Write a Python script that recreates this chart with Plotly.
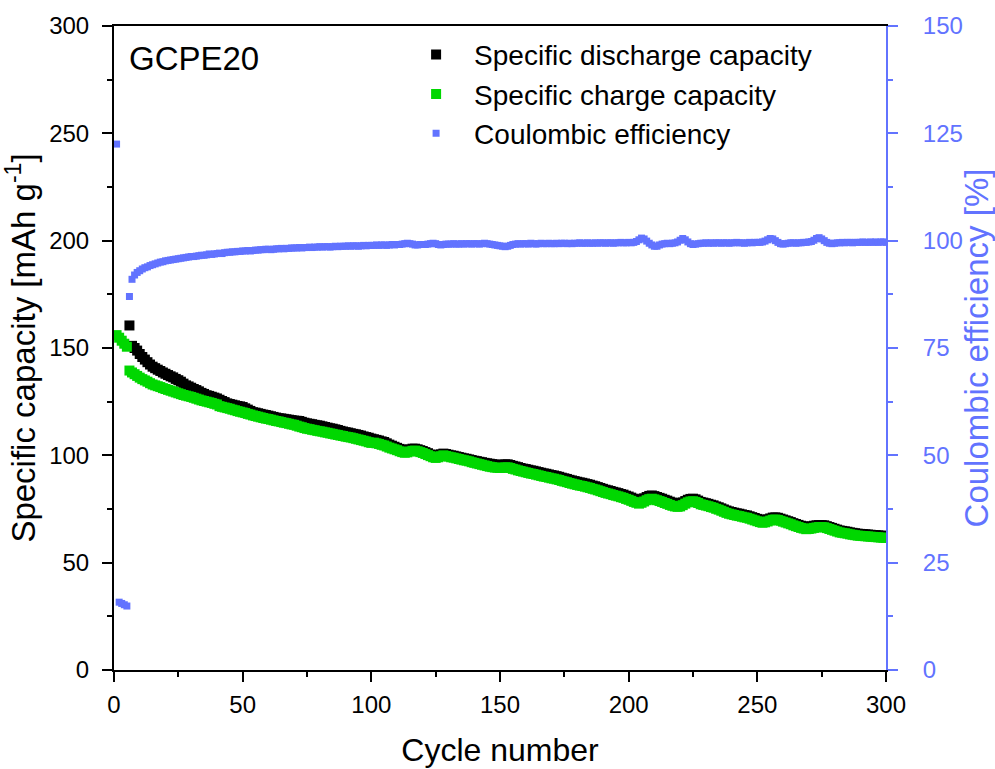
import plotly.graph_objects as go

cycles = list(range(1, 301))

discharge = [
    None, None, None, None, None, 160.5, 151.0, 150.0, 148.8, 147.2,
    145.8, 144.6, 143.4, 142.3, 141.3, 140.6, 139.9, 139.3, 138.6, 138.0,
    137.4, 136.8, 136.3, 135.6, 135.0, 134.3, 133.4, 132.6, 132.1, 131.5,
    130.9, 130.4, 129.8, 129.1, 128.6, 128.0, 127.7, 127.3, 126.9, 126.5,
    125.9, 125.3, 124.8, 124.2, 123.9, 123.6, 123.3, 123.0, 122.8, 122.5,
    121.9, 121.3, 120.7, 120.1, 119.9, 119.6, 119.3, 119.0, 118.8, 118.5,
    118.2, 117.9, 117.6, 117.3, 117.2, 117.0, 116.8, 116.6, 116.4, 116.2,
    116.1, 116.0, 115.6, 115.2, 114.9, 114.7, 114.5, 114.2, 114.0, 113.8,
    113.5, 113.2, 112.9, 112.6, 112.4, 112.1, 111.8, 111.4, 111.1, 110.8,
    110.6, 110.3, 110.0, 109.8, 109.5, 109.2, 108.8, 108.5, 108.2, 107.8,
    107.5, 107.2, 106.9, 106.5, 106.2, 105.6, 105.0, 104.5, 104.0, 103.5,
    103.0, 102.6, 102.3, 102.5, 102.8, 103.1, 103.1, 102.8, 102.4, 102.0,
    101.5, 101.0, 100.4, 99.9, 99.6, 100.0, 100.5, 100.8, 100.6, 100.3,
    100.0, 99.8, 99.5, 99.2, 98.9, 98.6, 98.4, 98.1, 97.8, 97.5,
    97.3, 97.0, 96.8, 96.5, 96.3, 96.1, 95.9, 95.7, 95.6, 95.5,
    95.6, 95.8, 95.8, 95.5, 95.1, 94.8, 94.5, 94.1, 93.8, 93.6,
    93.3, 93.0, 92.8, 92.5, 92.2, 91.9, 91.6, 91.4, 91.1, 90.8,
    90.6, 90.3, 90.0, 89.6, 89.3, 89.0, 88.6, 88.3, 88.0, 87.7,
    87.4, 87.2, 86.9, 86.6, 86.3, 85.9, 85.6, 85.2, 84.8, 84.4,
    84.0, 83.7, 83.4, 83.0, 82.7, 82.4, 82.0, 81.7, 81.2, 80.8,
    80.3, 79.8, 79.4, 79.0, 79.4, 80.0, 80.6, 81.1, 81.3, 81.0,
    80.6, 80.2, 79.8, 79.3, 78.9, 78.4, 78.0, 77.7, 77.5, 77.6,
    78.1, 78.7, 79.3, 79.7, 79.8, 79.5, 78.9, 78.3, 78.0, 77.7,
    77.4, 77.0, 76.7, 76.2, 75.8, 75.3, 74.8, 74.3, 73.9, 73.6,
    73.3, 73.0, 72.8, 72.5, 72.2, 72.0, 71.6, 71.2, 70.8, 70.4,
    70.0, 69.7, 69.8, 70.2, 70.6, 71.0, 71.1, 70.9, 70.5, 70.1,
    69.7, 69.3, 68.9, 68.4, 68.0, 67.6, 67.2, 66.9, 66.6, 66.7,
    66.9, 67.2, 67.4, 67.5, 67.5, 67.4, 67.0, 66.6, 66.2, 65.8,
    65.4, 65.0, 64.8, 64.6, 64.4, 64.1, 63.9, 63.7, 63.5, 63.4,
    63.3, 63.2, 63.1, 63.0, 62.9, 62.8, 62.7, 62.6, 62.5, 62.4,
]

charge = [
    156.0, 154.8, 153.4, 152.0, 150.6, 139.5, 138.6, 137.8, 137.0, 136.2,
    135.5, 134.9, 134.3, 133.6, 133.0, 132.6, 132.2, 131.8, 131.3, 130.9,
    130.5, 130.1, 129.7, 129.3, 128.9, 128.5, 128.1, 127.8, 127.5, 127.2,
    126.8, 126.4, 126.0, 125.6, 125.3, 125.0, 124.7, 124.4, 124.0, 123.7,
    122.9, 122.6, 122.3, 122.0, 121.7, 121.3, 121.0, 120.6, 120.3, 120.0,
    119.7, 119.3, 119.0, 118.6, 118.3, 118.0, 117.7, 117.4, 117.1, 116.9,
    116.6, 116.3, 116.0, 115.8, 115.5, 115.2, 115.0, 114.7, 114.4, 114.2,
    113.8, 113.4, 113.1, 112.7, 112.4, 112.2, 111.9, 111.7, 111.4, 111.2,
    111.0, 110.7, 110.5, 110.2, 110.0, 109.7, 109.5, 109.2, 109.0, 108.7,
    108.5, 108.3, 108.0, 107.7, 107.4, 107.1, 106.8, 106.5, 106.1, 105.8,
    105.9, 105.6, 105.3, 104.9, 104.6, 104.1, 103.6, 103.2, 102.8, 102.4,
    101.9, 101.5, 101.2, 101.4, 101.8, 102.1, 102.2, 101.9, 101.5, 101.1,
    100.6, 100.1, 99.6, 99.1, 98.8, 99.1, 99.6, 100.0, 99.7, 99.4,
    99.1, 98.9, 98.6, 98.3, 98.0, 97.7, 97.5, 97.2, 96.8, 96.5,
    96.2, 95.9, 95.6, 95.3, 95.0, 94.7, 94.5, 94.3, 94.2, 94.1,
    94.2, 94.4, 94.4, 94.1, 93.7, 93.4, 93.0, 92.7, 92.4, 92.1,
    91.8, 91.5, 91.3, 91.0, 90.7, 90.4, 90.1, 89.9, 89.6, 89.3,
    89.1, 88.8, 88.5, 88.1, 87.8, 87.5, 87.1, 86.8, 86.5, 86.2,
    85.9, 85.7, 85.4, 85.1, 84.8, 84.4, 84.1, 83.7, 83.3, 82.9,
    82.5, 82.2, 81.9, 81.5, 81.2, 80.9, 80.5, 80.2, 79.7, 79.3,
    78.8, 78.3, 77.9, 77.5, 77.9, 78.5, 79.1, 79.6, 79.8, 79.5,
    79.1, 78.7, 78.3, 77.8, 77.4, 76.9, 76.5, 76.2, 76.0, 76.2,
    76.8, 77.5, 78.1, 78.5, 78.6, 78.3, 77.8, 77.2, 76.9, 76.6,
    76.3, 75.9, 75.6, 75.1, 74.7, 74.2, 73.7, 73.2, 72.8, 72.5,
    72.2, 71.9, 71.7, 71.4, 71.1, 70.9, 70.5, 70.1, 69.7, 69.3,
    68.9, 68.6, 68.8, 69.2, 69.6, 70.0, 70.1, 69.9, 69.5, 69.1,
    68.7, 68.3, 67.9, 67.4, 67.0, 66.6, 66.2, 65.9, 65.6, 65.7,
    65.9, 66.2, 66.4, 66.6, 66.6, 66.5, 66.1, 65.7, 65.3, 64.9,
    64.5, 64.1, 63.9, 63.7, 63.5, 63.2, 63.0, 62.8, 62.6, 62.5,
    62.4, 62.3, 62.2, 62.1, 62.0, 61.9, 61.8, 61.7, 61.6, 61.5,
]

efficiency = [
    122.5, 15.8, 15.5, 15.2, 14.9, 87.0, 91.0, 92.0, 92.6, 93.0,
    93.4, 93.7, 93.9, 94.2, 94.4, 94.6, 94.8, 95.0, 95.1, 95.3,
    95.4, 95.5, 95.6, 95.7, 95.8, 95.9, 96.0, 96.1, 96.2, 96.3,
    96.3, 96.4, 96.5, 96.6, 96.6, 96.7, 96.9, 96.8, 96.9, 97.0,
    97.1, 97.0, 97.2, 97.3, 97.3, 97.4, 97.4, 97.5, 97.5, 97.6,
    97.6, 97.7, 97.6, 97.7, 97.8, 97.8, 97.9, 97.9, 98.0, 98.0,
    97.9, 98.0, 98.1, 98.1, 98.2, 98.1, 98.2, 98.2, 98.3, 98.3,
    98.3, 98.4, 98.3, 98.4, 98.4, 98.5, 98.4, 98.5, 98.5, 98.6,
    98.5, 98.6, 98.6, 98.5, 98.6, 98.7, 98.6, 98.7, 98.7, 98.7,
    98.8, 98.7, 98.8, 98.8, 98.7, 98.8, 98.9, 98.8, 98.9, 98.9,
    98.9, 99.0, 98.9, 99.0, 99.0, 98.9, 99.0, 99.1, 99.0, 99.1,
    99.1, 99.2, 99.3, 99.4, 99.3, 99.2, 99.0, 99.0, 99.1, 99.1,
    99.1, 99.2, 99.3, 99.4, 99.3, 99.1, 99.0, 99.1, 99.2, 99.2,
    99.2, 99.3, 99.2, 99.2, 99.3, 99.2, 99.3, 99.3, 99.2, 99.3,
    99.3, 99.2, 99.3, 99.4, 99.3, 99.2, 99.1, 99.0, 98.9, 98.8,
    98.7, 98.6, 98.7, 98.9, 99.1, 99.2, 99.3, 99.2, 99.3, 99.3,
    99.2, 99.4, 99.3, 99.2, 99.3, 99.4, 99.3, 99.3, 99.4, 99.3,
    99.3, 99.4, 99.3, 99.4, 99.4, 99.3, 99.4, 99.3, 99.4, 99.4,
    99.5, 99.4, 99.4, 99.5, 99.4, 99.4, 99.5, 99.4, 99.5, 99.5,
    99.4, 99.5, 99.5, 99.4, 99.5, 99.5, 99.6, 99.5, 99.5, 99.6,
    99.5, 99.6, 99.8, 100.2, 100.6, 100.4, 99.9, 99.4, 99.0, 98.7,
    98.7, 99.0, 99.2, 99.3, 99.4, 99.3, 99.4, 99.5, 99.7, 100.1,
    100.5, 100.2, 99.7, 99.3, 99.1, 99.2, 99.3, 99.4, 99.4, 99.5,
    99.4, 99.5, 99.4, 99.5, 99.5, 99.4, 99.5, 99.5, 99.4, 99.5,
    99.5, 99.6, 99.5, 99.5, 99.4, 99.5, 99.6, 99.5, 99.6, 99.6,
    99.6, 99.7, 99.9, 100.2, 100.5, 100.4, 100.0, 99.6, 99.3, 99.2,
    99.3, 99.4, 99.5, 99.5, 99.4, 99.5, 99.5, 99.6, 99.6, 99.7,
    99.8, 100.1, 100.5, 100.7, 100.4, 100.0, 99.6, 99.4, 99.3, 99.4,
    99.5, 99.5, 99.6, 99.5, 99.6, 99.6, 99.5, 99.6, 99.6, 99.6,
    99.7, 99.6, 99.6, 99.7, 99.6, 99.7, 99.6, 99.7, 99.7, 99.6,
]

x_ticks = [0, 50, 100, 150, 200, 250, 300]
y_ticks = [0, 50, 100, 150, 200, 250, 300]
y2_ticks = [0, 25, 50, 75, 100, 125, 150]

BLUE = "rgb(98,115,255)"
GREEN = "rgb(0,215,0)"
FONT = "Liberation Sans, Arial, sans-serif"

fig = go.Figure()
fig.add_trace(go.Scatter(
    x=cycles, y=discharge, mode="markers", name="Specific discharge capacity",
    marker=dict(symbol="square", size=10, color="black", line=dict(width=0)),
))
fig.add_trace(go.Scatter(
    x=cycles, y=charge, mode="markers", name="Specific charge capacity",
    marker=dict(symbol="square", size=10, color=GREEN, line=dict(width=0)),
))
fig.add_trace(go.Scatter(
    x=cycles, y=efficiency, mode="markers", name="Coulombic efficiency",
    yaxis="y2",
    marker=dict(symbol="square", size=7, color=BLUE, line=dict(width=0)),
))

fig.update_layout(
    width=995, height=769,
    margin=dict(l=114, r=109, t=26, b=99),
    paper_bgcolor="white", plot_bgcolor="white",
    font=dict(family=FONT, color="black"),
    showlegend=True,
    legend=dict(
        x=0.368, y=0.994, xanchor="left", yanchor="top",
        bgcolor="rgba(0,0,0,0)", font=dict(size=28, family=FONT),
        tracegroupgap=0, itemwidth=66,
    ),
    xaxis=dict(
        range=[0, 300], tickvals=x_ticks, ticks="outside", ticklen=10, tickwidth=2,
        tickcolor="black", showline=True, linewidth=2, linecolor="black", mirror=True,
        showgrid=False, zeroline=False, tickfont=dict(size=24), automargin=False,
        ticklabelstandoff=2,
        minor=dict(dtick=25, ticks="outside", ticklen=5, tickwidth=2, tickcolor="black", showgrid=False),
        title=dict(text="Cycle number", font=dict(size=32), standoff=22),
    ),
    yaxis=dict(
        range=[0, 300], tickvals=y_ticks, ticks="outside", ticklen=10, tickwidth=2,
        tickcolor="black", showline=True, linewidth=2, linecolor="black",
        showgrid=False, zeroline=False, tickfont=dict(size=24), automargin=False,
        ticklabelstandoff=8,
        minor=dict(dtick=25, ticks="outside", ticklen=5, tickwidth=2, tickcolor="black", showgrid=False),
        title=dict(text="Specific capacity [mAh g<sup>-1</sup>]", font=dict(size=33), standoff=8),
    ),
    yaxis2=dict(
        range=[0, 150], tickvals=y2_ticks, overlaying="y", side="right",
        ticks="outside", ticklen=10, tickwidth=2, tickcolor=BLUE,
        showline=True, linewidth=2, linecolor=BLUE, automargin=False,
        showgrid=False, zeroline=False, tickfont=dict(size=24, color=BLUE),
        ticklabelstandoff=20,
        minor=dict(dtick=12.5, ticks="outside", ticklen=5, tickwidth=2, tickcolor=BLUE, showgrid=False),
        title=dict(text="Coulombic efficiency [%]", font=dict(size=33, color=BLUE), standoff=2),
    ),
    annotations=[dict(
        text="GCPE20", xref="paper", yref="paper", x=0.017, y=0.95,
        xanchor="left", yanchor="middle", showarrow=False,
        font=dict(size=33, family=FONT, color="black"),
    )],
)

fig.write_html("out.html")
